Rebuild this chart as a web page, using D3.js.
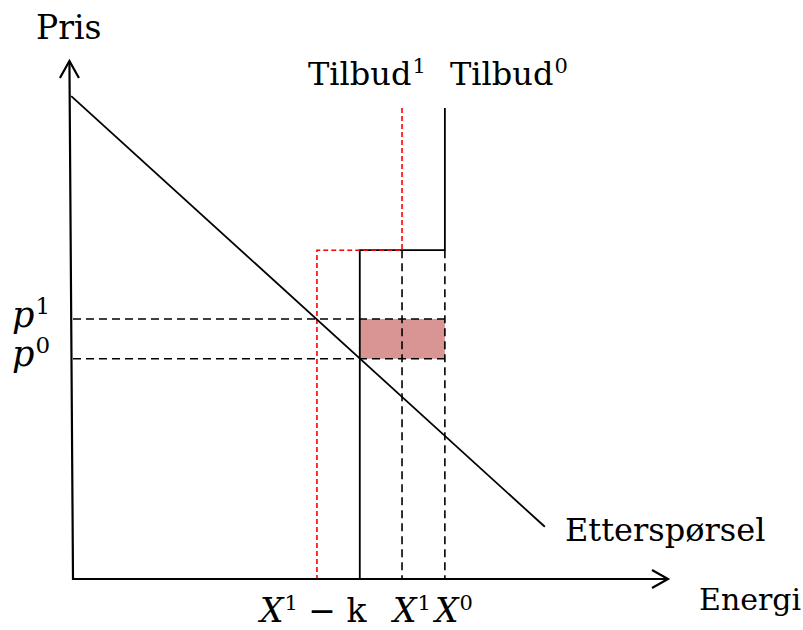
<!DOCTYPE html>
<html>
<head>
<meta charset="utf-8">
<script src="https://cdn.jsdelivr.net/npm/d3@7"></script>
<style>
  body { margin: 0; background: #fff; }
  text { font-family: "DejaVu Serif", "Liberation Serif", serif; fill: #000; }
  .math { font-style: italic; }
</style>
</head>
<body>
<svg id="chart" width="803" height="630"></svg>
<script>
// quantities (Energi) and prices (Pris), in diagram units 0..100
const qLabels = ["X¹ − k", "X¹", "X⁰"];
const qValues = [41, 55.3, 62.5];        // X1-k, X1, X0
const qSupplyBlack = 48.2;              // lower step of Tilbud0
const pLabels = ["p¹", "p⁰"];
const pValues = [50.3, 42.6];           // p1, p0
const stepPrice = 63.6;                 // price where supply turns vertical
const supplyTop = 91.1;

// demand curve (Etterspørsel)
const demand = [
  {q: -0.3, p: 93.4},
  {q: 79.3, p: 10.1}
];

// supply curves as step lines
const tilbud0 = [
  {q: qValues[2], p: supplyTop},
  {q: qValues[2], p: stepPrice},
  {q: qSupplyBlack, p: stepPrice},
  {q: qSupplyBlack, p: 0}
];
const tilbud1 = [
  {q: qValues[1], p: supplyTop},
  {q: qValues[1], p: stepPrice},
  {q: qValues[0], p: stepPrice},
  {q: qValues[0], p: 0}
];

const svg = d3.select("#chart");

const x = d3.scaleLinear().domain([0, 100]).range([73, 668]);
const y = d3.scaleLinear().domain([0, 100]).range([579, 62]);

const line = d3.line().x(d => x(d.q)).y(d => y(d.p));

// shaded rectangle between p0 and p1
svg.append("rect")
   .attr("x", x(qSupplyBlack))
   .attr("y", y(pValues[0]))
   .attr("width", x(qValues[2]) - x(qSupplyBlack))
   .attr("height", y(pValues[1]) - y(pValues[0]))
   .attr("fill", "#d99594");

// dashed helper lines
const dash = "8,5";
pValues.forEach(p => {
  svg.append("line")
     .attr("x1", x(0)).attr("x2", x(qValues[2]))
     .attr("y1", y(p)).attr("y2", y(p))
     .attr("stroke", "#000").attr("stroke-width", 1.6)
     .attr("stroke-dasharray", dash);
});
[qValues[1], qValues[2]].forEach(q => {
  svg.append("line")
     .attr("x1", x(q)).attr("x2", x(q))
     .attr("y1", y(stepPrice)).attr("y2", y(0))
     .attr("stroke", "#000").attr("stroke-width", 1.6)
     .attr("stroke-dasharray", dash);
});

// supply curves
svg.append("path")
   .datum(tilbud0)
   .attr("d", line)
   .attr("fill", "none")
   .attr("stroke", "#000")
   .attr("stroke-width", 1.8);

svg.append("path")
   .datum(tilbud1)
   .attr("d", line)
   .attr("fill", "none")
   .attr("stroke", "#ff0000")
   .attr("stroke-width", 1.6)
   .attr("stroke-dasharray", "5,3");

// demand
svg.append("path")
   .datum(demand)
   .attr("d", line)
   .attr("fill", "none")
   .attr("stroke", "#000")
   .attr("stroke-width", 1.8);

// axes (hand drawn, y axis leans a little)
const axis = svg.append("g")
                .attr("fill", "none")
                .attr("stroke", "#000")
                .attr("stroke-width", 2.2);
axis.append("path").attr("d", line([{q: -0.6, p: 100.2}, {q: 0, p: 0}, {q: 100, p: 0}]));
axis.append("path").attr("d", "M" + (x(-0.6) - 9.5) + "," + (y(100.2) + 17) + "L" + x(-0.6) + "," + y(100.2) + "L" + (x(-0.6) + 9.5) + "," + (y(100.2) + 17));
axis.append("path").attr("d", "M" + (x(100) - 16) + "," + (y(0) - 9) + "L" + x(100) + "," + y(0) + "L" + (x(100) - 16) + "," + (y(0) + 9));

// text labels
svg.append("text").attr("x", 36).attr("y", 39).attr("font-size", 33).text("Pris");
svg.append("text").attr("x", 699).attr("y", 610).attr("font-size", 30).text("Energi");
svg.append("text").attr("x", 565).attr("y", 541).attr("font-size", 32).text("Etterspørsel");

function supLabel(xp, yp, base, sup, italic, size, supSize, rise) {
  const t = svg.append("text").attr("x", xp).attr("y", yp).attr("font-size", size);
  t.append("tspan").attr("class", italic ? "math" : null).text(base);
  t.append("tspan").attr("dx", 1).attr("dy", -rise).attr("font-size", supSize).text(sup);
  return t;
}

supLabel(308, 85, "Tilbud", "1", false, 32, 21, 12);
supLabel(450, 85, "Tilbud", "0", false, 32, 21, 12);

// price labels
supLabel(12, 327, "p", "1", true, 35, 23, 13);
supLabel(12, 366, "p", "0", true, 35, 23, 13);

// quantity labels
const xl = svg.append("text").attr("x", 260).attr("y", 622).attr("font-size", 33);
xl.append("tspan").attr("class", "math").text("X");
xl.append("tspan").attr("dx", 1).attr("dy", -12).attr("font-size", 21).text("1");
xl.append("tspan").attr("dy", 12).text(" − k");

supLabel(393, 622, "X", "1", true, 33, 21, 12);
supLabel(435, 622, "X", "0", true, 33, 21, 12);
</script>
</body>
</html>
